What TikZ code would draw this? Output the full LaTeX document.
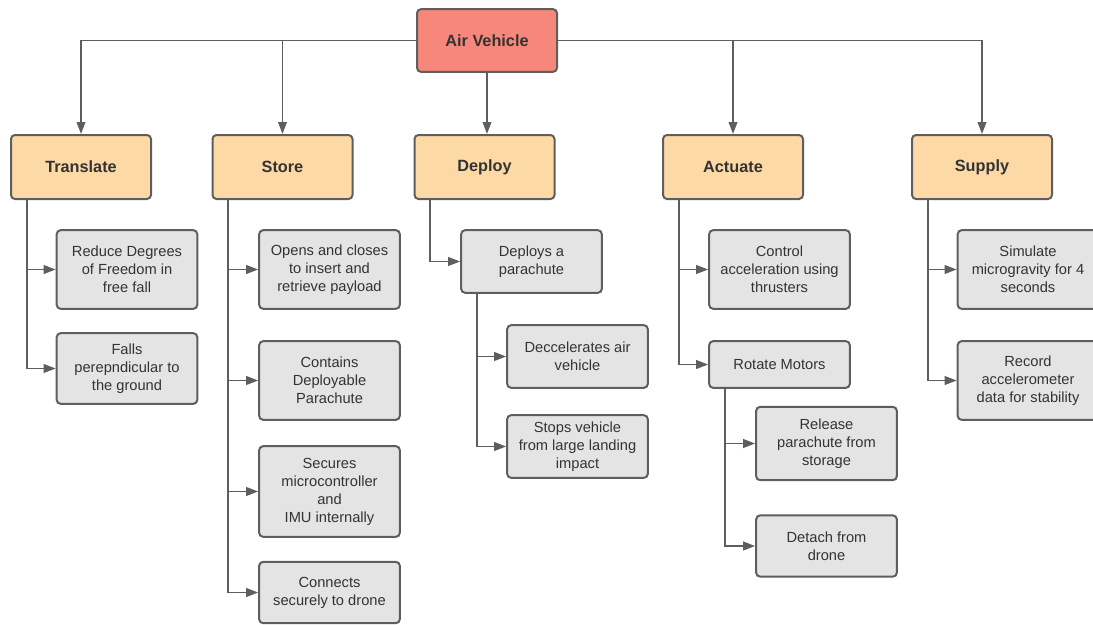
\documentclass[tikz,border=0pt]{standalone}
\usepackage{fontspec}
\setmainfont{Liberation Sans}
\usetikzlibrary{arrows.meta}
\definecolor{avred}{HTML}{F8877B}
\definecolor{fnpeach}{HTML}{FDD9A6}
\definecolor{subgray}{HTML}{E4E4E4}
\definecolor{edgegray}{HTML}{5E5E5E}
\definecolor{txtgray}{HTML}{333333}
\begin{document}
\begin{tikzpicture}[x=0.75pt,y=-0.75pt,
  box/.style={draw=edgegray,line width=1.5pt,rounded corners=3pt,align=center,
    text=txtgray,inner sep=2pt,font=\fontsize{11}{13.5}\selectfont},
  top/.style={box,fill=avred,minimum width=105pt,minimum height=47pt,
    font=\fontsize{12.2}{14}\selectfont\bfseries},
  func/.style={box,fill=fnpeach,minimum width=105pt,minimum height=48pt,
    font=\fontsize{12.2}{14}\selectfont\bfseries},
  sub/.style={box,fill=subgray,minimum width=105.5pt},
  link/.style={draw=edgegray,line width=1.3pt,-{Triangle[length=9pt,width=6.5pt]}}]
\useasboundingbox (0,0) rectangle (1093,625);
% root and functions
\node[top] (av) at (487,40.5) {Air Vehicle};
\node[func] (tr) at (81,167) {Translate};
\node[func] (st) at (282.5,167) {Store};
\node[func] (dp) at (484.5,167) {Deploy};
\node[func] (ac) at (733,167) {Actuate};
\node[func] (su) at (982,167) {Supply};
% sub-functions
\node[sub,minimum height=59pt] (tr1) at (127,269.5) {Reduce Degrees\\of Freedom in\\free fall};
\node[sub,minimum height=53pt] (tr2) at (127,368.5) {Falls\\perepndicular to\\the ground};
\node[sub,minimum height=59pt] (st1) at (329.5,269.5) {Opens and closes\\to insert and\\retrieve payload};
\node[sub,minimum height=59pt] (st2) at (329.5,380.5) {Contains\\Deployable\\Parachute};
\node[sub,minimum height=68pt] (st3) at (329.5,491.5) {Secures\\microcontroller\\and\\IMU internally};
\node[sub,minimum height=46pt] (st4) at (329.5,592.5) {Connects\\securely to drone};
\node[sub,minimum height=47pt] (dp1) at (531.5,261.5) {Deploys a\\parachute};
\node[sub,minimum height=47pt] (dp2) at (577.5,356.5) {Deccelerates air\\vehicle};
\node[sub,minimum height=47pt] (dp3) at (577.5,446.5) {Stops vehicle\\from large landing\\impact};
\node[sub,minimum height=59pt] (ac1) at (779.5,269.5) {Control\\acceleration using\\thrusters};
\node[sub,minimum height=35pt] (ac2) at (779.5,364.5) {Rotate Motors};
\node[sub,minimum height=55pt] (ac3) at (826.5,443.5) {Release\\parachute from\\storage};
\node[sub,minimum height=46pt] (ac4) at (826.5,546) {Detach from\\drone};
\node[sub,minimum height=59pt] (su1) at (1028,269.5) {Simulate\\microgravity for 4\\seconds};
\node[sub,minimum height=59pt] (su2) at (1028,380.5) {Record\\accelerometer\\data for stability};
% root to functions
\draw[link] (av.west) -| (tr.north);
\draw[link] (av.west) -| (st.north);
\draw[link] (av.south) -- (av.south |- dp.north);
\draw[link] (av.east) -| (ac.north);
\draw[link] (av.east) -| (su.north);
% functions to sub-functions
\foreach \p/\c in {tr/tr1,tr/tr2,st/st1,st/st2,st/st3,st/st4,dp/dp1,dp1/dp2,dp1/dp3,
    ac/ac1,ac/ac2,ac2/ac3,ac2/ac4,su/su1,su/su2}
  \draw[link] ([xshift=12.5pt]\p.south west) |- (\c.west);
\end{tikzpicture}
\end{document}
